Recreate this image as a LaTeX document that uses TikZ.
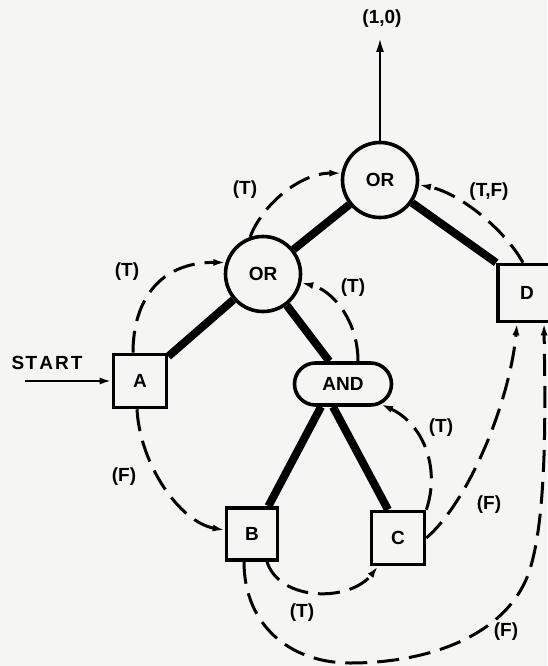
\documentclass[tikz,border=0pt]{standalone}
\usepackage{fontspec}
\setmainfont{Liberation Sans}
\usetikzlibrary{arrows.meta,shapes.misc,calc}
\pgfdeclarelayer{back}
\pgfdeclarelayer{bg}
\pgfsetlayers{back,bg,main}
\definecolor{paper}{HTML}{F5F5F3}
\begin{document}
\begin{tikzpicture}[x=1pt,y=-1pt,
  every node/.style={font=\fontsize{19}{22}\selectfont\bfseries},
  box/.style={draw,fill=paper,line width=3.6pt,minimum width=53pt,minimum height=53pt,inner sep=0pt},
  gate/.style={draw,fill=paper,circle,line width=3.6pt,minimum size=75pt,inner sep=0pt},
  andgate/.style={draw,fill=paper,rounded rectangle,line width=3.6pt,minimum width=97pt,minimum height=42pt,inner sep=0pt},
  strong/.style={line width=8pt},
  flow/.style={line width=3pt,dash pattern=on 22pt off 10pt,-{Latex[length=12pt,width=7pt]}},
  lbl/.style={inner sep=0pt}]
\begin{pgfonlayer}{back}
\fill[paper] (0,0) rectangle (547,666);
\end{pgfonlayer}
\useasboundingbox (0,0) rectangle (547,666);
% nodes
\node[gate] (topor) at (380,180) {OR};
\node[gate] (lor) at (263,274) {OR};
\node[box] (A) at (140,381) {A};
\node[andgate] (and) at (343,384) {AND};
\node[box,minimum width=51pt,minimum height=52pt] (B) at (252,534) {B};
\node[box] (C) at (398,538) {C};
\node[box,minimum width=58pt,minimum height=57pt] (D) at (527,293) {D};
% labels
\node[lbl] (outlbl) at (382,19) {(1,0)};
\coordinate (out) at (380,37);
\node[lbl] (start) at (47,363) {S\kern1.5pt T\kern2pt A\kern2pt R\kern2pt T};
\coordinate (in) at (25,381);
\node[lbl] (t1) at (127,272) {(T)};
\node[lbl] (t2) at (245,190) {(T)};
\node[lbl] (t3) at (489,192) {(T,F)};
\node[lbl] (t4) at (353,288) {(T)};
\node[lbl] (t5) at (441,428) {(T)};
\node[lbl] (f1) at (124,477) {(F)};
\node[lbl] (t6) at (302,613) {(T)};
\node[lbl] (f2) at (489,505) {(F)};
\node[lbl] (f3) at (506,632) {(F)};
\begin{pgfonlayer}{bg}
% structure
\draw[strong] (topor) -- (lor);
\draw[strong] (topor) -- (D.north west);
\draw[strong] (lor) -- (A);
\draw[strong] (lor) -- ($(and.north)!0.5!(and.north west)$);
\draw[strong] ($(and.south)+(-22,0)$) -- ($(B.north)!0.6!(B.north east)$);
\draw[strong] ($(and.south)+(-10,0)$) -- ($(C.north)+(-10,0)$);
\end{pgfonlayer}
% input / output
\draw[line width=2.8pt,-{Latex[length=15pt,width=8pt]}] (topor) -- (out);
\draw[line width=2.8pt,-{Latex[length=12pt,width=7pt]}] (in) -- (A);
% dashed flows
\draw[flow] ($(A.north)+(-7,0)$) .. controls (133,300) and (160,262) .. (lor.163);
\draw[flow] (lor.109) .. controls (262,205) and (300,173) .. (topor.170);
\draw[flow] ($(D.north)+(-4,0)$) .. controls (505,230) and (460,193) .. (topor.-7);
\draw[flow] ($(and.north)+(15,0)$) .. controls (358,320) and (332,290) .. (lor.-13);
\draw[flow] (C.north east) .. controls (440,470) and (425,425) .. (and.-28);
\draw[flow] ($(A.south)+(-3,0)$) .. controls (140,465) and (180,522) .. (B.172);
\draw[flow] ($(B.south)+(15,0)$) .. controls (280,602) and (350,602) .. ($(C.south)+(-20,0)$);
\draw[flow] (C.east) .. controls (470,500) and (510,400) .. ($(D.south)+(-10,0)$);
\draw[flow] ($(B.south)+(-8,0)$) .. controls (244,625) and (290,663) .. (350,663)
  .. controls (430,663) and (505,635) .. (528,575)
  .. controls (548,520) and (545,400) .. ($(D.south)+(17,0)$);
\end{tikzpicture}
\end{document}
